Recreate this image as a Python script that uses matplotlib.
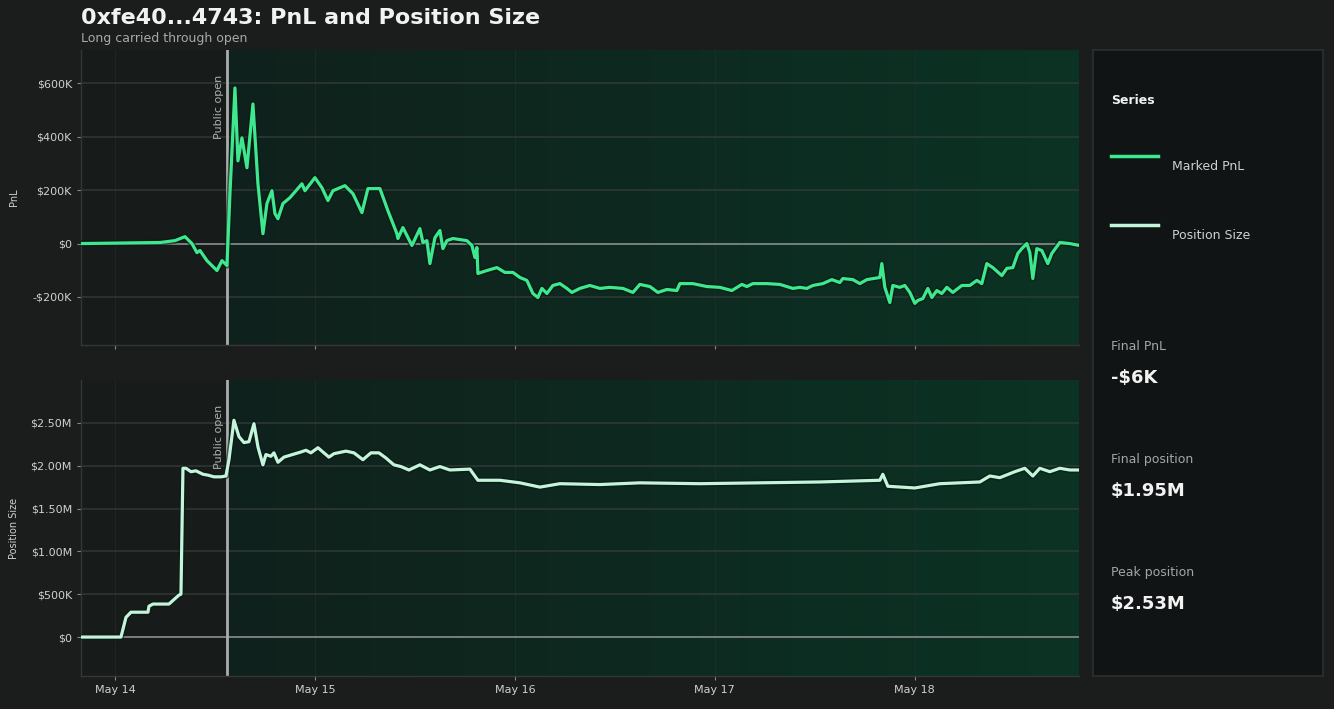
import numpy as np
import pandas as pd
import matplotlib
matplotlib.use('Agg')
import matplotlib.pyplot as plt
import matplotlib.dates as mdates
from matplotlib.colors import LinearSegmentedColormap
from matplotlib.ticker import FuncFormatter

# ---------- data (hours since May 14 00:00) ----------
pnl_hours = [-4.08, 5.4, 7.2, 8.4, 9.24, 9.84, 10.2, 11.04, 12.24, 12.84, 13.44,
             13.8, 14.4, 14.76, 15.24, 15.84, 16.56, 17.16, 17.76, 18.24, 18.84,
             19.2, 19.56, 20.16, 21.0, 22.44, 22.8, 24.0, 24.84, 25.56, 26.16,
             27.6, 28.56, 29.64, 30.36, 31.8, 32.76, 33.84, 33.96, 34.56, 35.04,
             35.64, 36.6, 36.96, 37.44, 37.8, 38.4, 39.0, 39.36, 39.84, 40.56,
             42.24, 42.84, 43.2, 43.44, 43.56, 44.64, 45.84, 46.8, 47.76, 48.6,
             49.44, 50.16, 50.76, 51.24, 51.84, 52.56, 53.4, 54.24, 54.84, 55.8,
             57.0, 58.2, 59.4, 60.96, 62.16, 63.0, 64.2, 65.16, 66.24, 67.44,
             67.8, 69.36, 71.04, 72.6, 74.04, 75.24, 75.84, 76.56, 78.24, 79.8,
             81.36, 82.2, 83.04, 83.76, 84.96, 86.04, 87.0, 87.36, 88.56, 89.4,
             90.24, 91.8, 92.04, 92.4, 93.0, 93.36, 94.2, 94.8, 95.4, 96.0,
             96.36, 96.96, 97.56, 98.04, 98.64, 99.24, 99.84, 100.56, 101.64,
             102.6, 103.44, 104.04, 104.64, 105.36, 106.44, 107.04, 107.76,
             108.36, 108.84, 109.44, 109.8, 110.16, 110.64, 111.24, 111.96,
             112.44, 113.4, 114.6, 115.56]
pnl_k = [0, 4, 11, 26, 0, -34, -26, -64, -101, -64, -82,
         187, 583, 310, 396, 284, 523, 224, 37, 150, 198,
         112, 93, 150, 172, 224, 198, 247, 209, 161, 198,
         217, 187, 116, 206, 206, 123, 37, 19, 60, 30,
         -7, 56, 4, 11, -75, 22, 49, -19, 11, 19,
         11, -7, -52, -15, -112, -101, -90, -108, -108, -127,
         -138, -187, -202, -168, -187, -157, -150, -168, -183, -168,
         -157, -168, -164, -168, -183, -153, -161, -183, -172, -176,
         -150, -150, -161, -164, -176, -153, -161, -150, -150, -153,
         -168, -164, -168, -157, -150, -135, -146, -131, -135, -150,
         -135, -127, -75, -164, -221, -157, -164, -157, -183, -224,
         -213, -206, -168, -202, -176, -187, -164, -183, -157,
         -157, -138, -150, -75, -90, -120, -93, -90,
         -37, -19, 0, -34, -131, -19, -26, -75,
         -37, 4, 0, -6]

pos_hours = [-4.08, 0.72, 1.32, 1.92, 3.96, 4.08, 4.56, 6.48, 7.68, 7.92, 8.16,
             8.52, 9.12, 9.72, 10.56, 11.16, 11.88, 12.72, 13.32, 13.68, 14.28,
             14.88, 15.48, 16.08, 16.68, 17.16, 17.76, 18.12, 18.72, 19.08, 19.56,
             20.28, 22.32, 22.92, 23.52, 24.36, 25.68, 26.28, 27.72, 28.68, 29.76,
             30.72, 31.68, 32.52, 33.48, 34.32, 35.28, 36.6, 37.8, 39.0, 40.2,
             42.6, 43.56, 46.2, 48.6, 51.0, 53.4, 58.2, 63.0, 70.2, 77.4,
             84.6, 91.8, 92.16, 92.76, 96.0, 99.0, 103.8, 105.0, 106.2, 108.0,
             109.2, 110.16, 111.0, 112.2, 113.4, 114.6, 115.56]
pos_m = [0, 0, 0.23, 0.29, 0.29, 0.36, 0.385, 0.385, 0.49, 0.50, 1.97,
         1.97, 1.93, 1.94, 1.90, 1.89, 1.87, 1.87, 1.88, 2.07, 2.53,
         2.34, 2.27, 2.28, 2.49, 2.22, 2.01, 2.13, 2.11, 2.15, 2.04,
         2.10, 2.16, 2.18, 2.15, 2.21, 2.10, 2.14, 2.17, 2.15, 2.07,
         2.15, 2.15, 2.09, 2.01, 1.99, 1.95, 2.01, 1.95, 1.99, 1.95,
         1.96, 1.83, 1.83, 1.80, 1.75, 1.79, 1.78, 1.80, 1.79, 1.80,
         1.81, 1.83, 1.90, 1.76, 1.74, 1.79, 1.81, 1.88, 1.86, 1.93,
         1.97, 1.88, 1.97, 1.93, 1.97, 1.95, 1.95]

open_hour = 13.44
x_range_hours = (-4.08, 115.68)

title = '0xfe40...4743: PnL and Position Size'
subtitle = 'Long carried through open'
stats = [('Final PnL', '-$6K'), ('Final position', '$1.95M'), ('Peak position', '$2.53M')]

# ---------- style ----------
BG = '#1b1c1c'
PRE = '#171b1a'
PNL_C = '#3ee88e'
POS_C = '#c4f5dc'
TXT = '#d0d0d0'

base = pd.Timestamp('2025-05-14')
def to_dt(hours):
    return mdates.date2num(base + pd.to_timedelta(np.asarray(hours), unit='h'))

pnl_x = to_dt(pnl_hours)
pos_x = to_dt(pos_hours)
open_x = to_dt([open_hour])[0]
x0, x1 = to_dt(list(x_range_hours))

def fmt_k(v, _):
    if v == 0:
        return '$0'
    s = '-' if v < 0 else ''
    return f'{s}${abs(v)/1000:.0f}K'

def fmt_pos(v, _):
    if v == 0:
        return '$0'
    if abs(v) >= 1e6:
        return f'${v/1e6:.2f}M'
    return f'${v/1000:.0f}K'

fig = plt.figure(figsize=(13.34, 7.09), dpi=100, facecolor=BG)
ax1 = fig.add_axes([0.0607, 0.5134, 0.748, 0.416])
ax2 = fig.add_axes([0.0607, 0.0465, 0.748, 0.4175])

green_cmap = LinearSegmentedColormap.from_list('g', ['#10211c', '#0b3324'])

def style(ax, ylim):
    ax.set_facecolor(PRE)
    ax.set_xlim(x0, x1)
    ax.set_ylim(*ylim)
    grad = np.linspace(0, 1, 256).reshape(1, -1)
    ax.imshow(grad, cmap=green_cmap, aspect='auto',
              extent=[open_x, x1, ylim[0], ylim[1]], zorder=0)
    for s in ['top', 'right']:
        ax.spines[s].set_visible(False)
    for s in ['left', 'bottom']:
        ax.spines[s].set_color('#333836')
        ax.spines[s].set_linewidth(1)
    ax.grid(True, axis='y', color='#3a403e', linewidth=1.2, alpha=0.7)
    ax.grid(True, axis='x', color='#2a302e', linewidth=0.8, alpha=0.5)
    ax.set_axisbelow(True)
    ax.tick_params(colors='#888888', labelcolor=TXT, labelsize=8, length=3)
    ax.xaxis.set_major_locator(mdates.DayLocator())
    ax.xaxis.set_major_formatter(mdates.DateFormatter('%b %d'))
    ax.axhline(0, color='#7d8581', linewidth=1.3, zorder=1)
    ax.axvline(open_x, color='#a9adab', linewidth=2, zorder=2)
    ax.text(open_x - 0.015, ylim[1] - (ylim[1] - ylim[0]) * 0.085, 'Public open',
            rotation=90, ha='right', va='top', fontsize=8, color='#b0b0b0', zorder=3)

style(ax1, (-380e3, 725e3))
style(ax2, (-0.455e6, 3.0e6))

pnl_vals = np.array(pnl_k) * 1000
pos_vals = np.array(pos_m) * 1e6

ax1.plot(pnl_x, pnl_vals, color='#0a1a12', linewidth=4.5, alpha=0.6, zorder=4)
ax1.plot(pnl_x, pnl_vals, color=PNL_C, linewidth=2.3, zorder=5)
ax2.plot(pos_x, pos_vals, color='#0a1a12', linewidth=4.5, alpha=0.6, zorder=4)
ax2.plot(pos_x, pos_vals, color=POS_C, linewidth=2.3, zorder=5)

ax1.set_yticks([-200e3, 0, 200e3, 400e3, 600e3])
ax1.yaxis.set_major_formatter(FuncFormatter(fmt_k))
ax1.tick_params(axis='x', labelbottom=False)
ax2.set_yticks([0, 0.5e6, 1e6, 1.5e6, 2e6, 2.5e6])
ax2.yaxis.set_major_formatter(FuncFormatter(fmt_pos))

ax1.set_ylabel('PnL', color=TXT, fontsize=7)
ax2.set_ylabel('Position Size', color=TXT, fontsize=7)
ax1.yaxis.set_label_coords(-0.062, 0.5)
ax2.yaxis.set_label_coords(-0.062, 0.5)

fig.text(0.0607, 0.974, title, fontsize=16, fontweight='bold', color='#f2f2f2',
         ha='left', va='center')
fig.text(0.0607, 0.946, subtitle, fontsize=9, color='#a8a8a8', ha='left', va='center')

# ---------- side panel ----------
panel = fig.add_axes([0.8193, 0.0465, 0.1724, 0.883])
panel.set_facecolor('#111414')
panel.set_xlim(0, 230)
panel.set_ylim(626, 0)
panel.set_xticks([])
panel.set_yticks([])
for s in panel.spines.values():
    s.set_color('#2b302e')
    s.set_linewidth(1.2)

panel.text(18, 51, 'Series', fontsize=9, fontweight='bold', color='#f0f0f0', va='center')
for yy, lab, c in [(106, 'Marked PnL', PNL_C), (175, 'Position Size', POS_C)]:
    panel.plot([18, 65], [yy, yy], color='#0a1a12', linewidth=5, alpha=0.6)
    panel.plot([18, 65], [yy, yy], color=c, linewidth=2.5)
    panel.text(79, yy + 11, lab, fontsize=9, color=TXT, va='center')

for i, (lab, val) in enumerate(stats):
    yy = 296 + i * 113
    panel.text(18, yy, lab, fontsize=9, color='#a0a8a4', va='center')
    panel.text(18, yy + 32, val, fontsize=13, fontweight='bold', color='#f2f2f2', va='center')

fig.savefig('out.png', dpi=100, facecolor=BG)
